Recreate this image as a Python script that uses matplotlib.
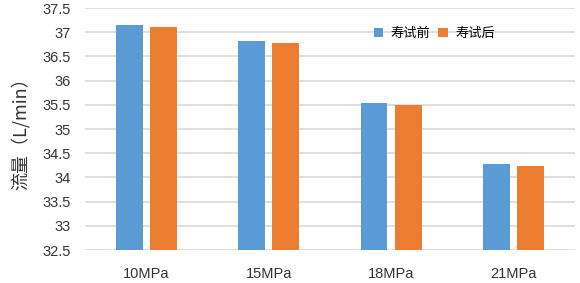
import numpy as np
import matplotlib.pyplot as plt

plt.rcParams['font.family'] = ['Liberation Sans', 'Noto Sans CJK SC', 'DejaVu Sans']

# 数据
categories = ['10MPa', '15MPa', '18MPa', '21MPa']
before = [37.14, 36.81, 35.54, 34.27]  # 寿试前
after = [37.10, 36.77, 35.50, 34.24]   # 寿试后
yticks = [32.5, 33, 33.5, 34, 34.5, 35, 35.5, 36, 36.5, 37, 37.5]
ytick_labels = ['32.5', '33', '33.5', '34', '34.5', '35', '35.5', '36', '36.5', '37', '37.5']

fig = plt.figure(figsize=(5.8, 2.83), dpi=100)
ax = fig.add_axes([0.1466, 0.1166, 0.8444, 0.855])

x = np.arange(len(categories))
w = 0.22
ax.bar(x - 0.14, before, width=w, bottom=0, color='#5B9BD5', label='寿试前', zorder=3)
ax.bar(x + 0.14, after, width=w, bottom=0, color='#ED7D31', label='寿试后', zorder=3)

ax.set_xlim(-0.5, len(categories) - 0.5)
ax.set_ylim(32.5, 37.5)
ax.set_yticks(yticks)
ax.set_yticklabels(ytick_labels, fontsize=10.5, color='#333333')
ax.set_xticks(x)
ax.set_xticklabels(categories, fontsize=10.5, color='#333333')
ax.tick_params(length=0, pad=10)
ax.tick_params(axis='x', pad=12)

for s in ax.spines.values():
    s.set_visible(False)
ax.grid(axis='y', color='#d9d9d9', linewidth=1.2, zorder=0)
ax.set_axisbelow(True)

ax.set_ylabel('流量（L/min）', fontsize=13, family=['Noto Sans CJK SC'], color='#333333', labelpad=9)

ax.legend(loc='upper left', bbox_to_anchor=(0.565, 0.97), ncol=2, frameon=False,
          handlelength=0.7, handleheight=0.7, handletextpad=0.6,
          columnspacing=0.6, prop={'family': 'Noto Sans CJK SC', 'size': 9.5})

plt.savefig('out.png', dpi=100)
